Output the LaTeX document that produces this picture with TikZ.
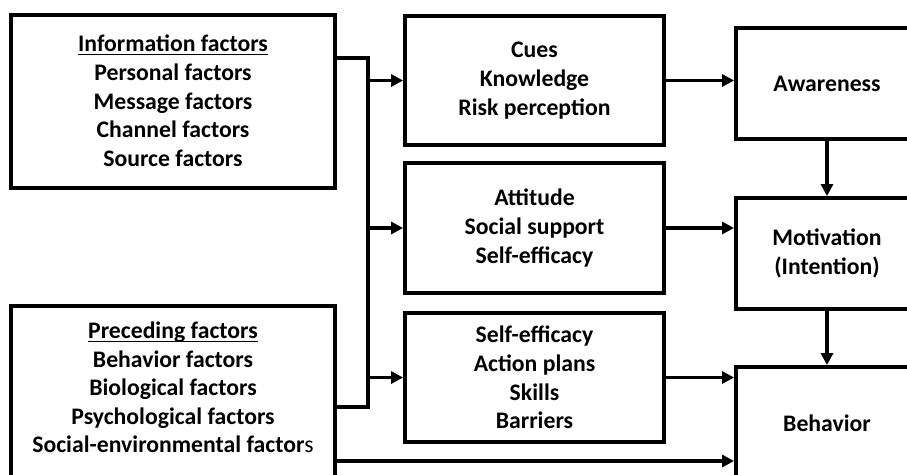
\documentclass[tikz,border=0pt]{standalone}
\usepackage{fontspec}
\setmainfont{Carlito}
\usetikzlibrary{arrows.meta,calc}
\newcommand{\headline}[1]{\underline{\vphantom{A}\smash{#1}}}

\begin{document}
\begin{tikzpicture}[x = 0.02cm, y = -0.02cm, line width = 2.2pt,
    box/.style = {draw, rectangle, align = center, font = \fontsize{13.5}{16.3}\selectfont\bfseries},
    >= {Triangle[length = 0.24cm, width = 0.24cm]}]
      \useasboundingbox (0, 0) rectangle (907, 474);
      \clip (0, 0) rectangle (907, 474);

      \node (info_factors) [box, minimum width = 6.48cm, minimum height = 3.46cm] at (173, 101.5) {\headline{Information factors}\\Personal factors\\Message factors\\Channel factors\\Source factors};
      \node (preceding_factors) [box, minimum width = 6.48cm, minimum height = 3.88cm, text depth = 0.6cm] at (173, 403) {\headline{Preceding factors}\\Behavior factors\\Biological factors\\Psychological factors\\Social-environmental factor{\mdseries s}};

      \node (cues) [box, minimum width = 5.18cm, minimum height = 2.58cm] at (534.5, 80.5) {Cues\\Knowledge\\Risk perception};
      \node (attitude) [box, minimum width = 5.18cm, minimum height = 2.6cm] at (534.5, 228) {Attitude\\Social support\\Self-efficacy};
      \node (plans) [box, minimum width = 5.18cm, minimum height = 2.58cm] at (534.5, 377.5) {Self-efficacy\\Action plans\\Skills\\Barriers};

      \node (awareness) [box, minimum width = 3.64cm, minimum height = 2.22cm] at (827, 83.5) {Awareness};
      \node (motivation) [box, minimum width = 3.64cm, minimum height = 2.22cm] at (827, 253.5) {Motivation\\(Intention)};
      \node (behavior) [box, minimum width = 3.64cm, minimum height = 2.24cm] at (827, 423) {Behavior};

      \coordinate (bus_top) at (368, 58);
      \coordinate (bus_bottom) at (368, 407);
      \draw [line join = miter] (info_factors.east |- bus_top) -- (bus_top) -- (bus_bottom) -- (preceding_factors.east |- bus_bottom);

      \draw [->] (bus_top |- cues.west) -- (cues.west);
      \draw [->] (bus_top |- attitude.west) -- (attitude.west);
      \draw [->] (bus_top |- plans.west) -- (plans.west);

      \draw [->] (cues.east) -- (cues.east -| awareness.west);
      \draw [->] (attitude.east) -- (attitude.east -| motivation.west);
      \draw [->] (plans.east) -- (plans.east -| behavior.west);
      \draw [->] (preceding_factors.east |- 0, 461) -- (behavior.west |- 0, 461);

      \draw [->] (awareness) -- (motivation);
      \draw [->] (motivation) -- (behavior);
    \end{tikzpicture}
\end{document}
